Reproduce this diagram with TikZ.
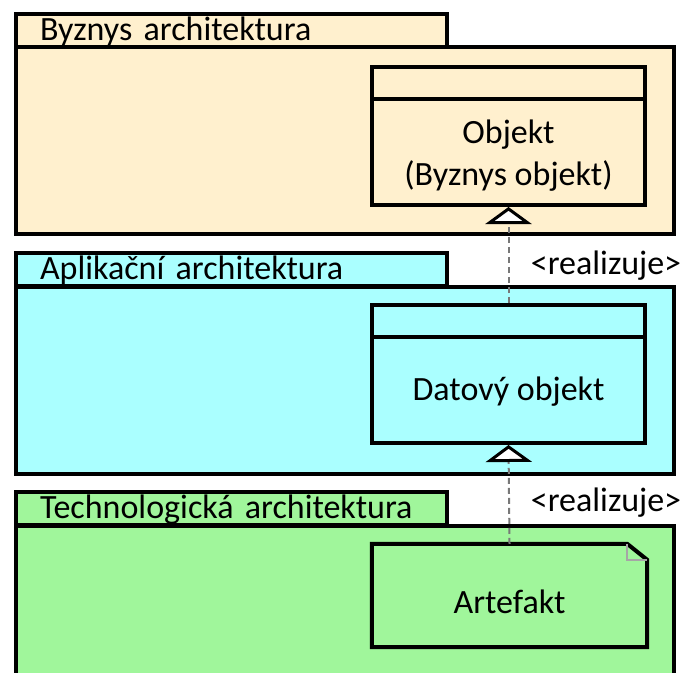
\documentclass[tikz,border=0pt]{standalone}
\usepackage{fontspec}
\setmainfont{Carlito}
\usetikzlibrary{arrows.meta}
\definecolor{bizfill}{RGB}{255,240,206}
\definecolor{appfill}{RGB}{170,255,255}
\definecolor{techfill}{RGB}{160,246,155}
\definecolor{dashgray}{RGB}{120,120,120}

\tikzset{
  pkgtab/.style={draw, line width=4pt, anchor=north west, minimum width=431pt,
    minimum height=33pt, text width=383pt, inner xsep=24pt, inner ysep=2pt,
    text height=24pt, text depth=5pt, align=left},
  pkgbody/.style={draw, line width=4pt, anchor=north west, minimum width=658pt,
    minimum height=187pt},
  classbox/.style={draw, line width=4pt, minimum width=273pt, minimum height=138pt},
  realize/.style={dashgray, line width=2pt, dash pattern=on 6pt off 4pt,
    -{Triangle[length=17pt, width=46pt, fill=white, color=black, line width=3pt]}},
}

\begin{document}
\begin{tikzpicture}[x=1pt, y=-1pt, font=\fontsize{34}{42}\selectfont]
\useasboundingbox (0,0) rectangle (690,672);
\clip (0,0) rectangle (690,672);

% business layer
\node[pkgbody, fill=bizfill] (bizbody) at (14,45) {};
\node[pkgtab, fill=bizfill] (biztab) at (14,12) {Byznys architektura};
\node[classbox] (objekt) at (508.5,136) {};
\draw[line width=4pt] ([yshift=-34pt]objekt.north west) -- ([yshift=-34pt]objekt.north east);
\node[align=center] (objekttext) at (508.5,156) {Objekt\\(Byznys objekt)};

% application layer
\node[pkgbody, fill=appfill] (appbody) at (14,285) {};
\node[pkgtab, fill=appfill] (apptab) at (14,251) {Aplikační architektura};
\node[classbox] (datovy) at (508.5,374) {};
\draw[line width=4pt] ([yshift=-34pt]datovy.north west) -- ([yshift=-34pt]datovy.north east);
\node (datovytext) at (508.5,392) {Datový objekt};

% technology layer
\node[pkgbody, fill=techfill, minimum height=200pt] (techbody) at (14,524) {};
\node[pkgtab, fill=techfill] (techtab) at (14,490) {Technologická architektura};
\node[minimum width=275pt, minimum height=103pt, text height=35pt, text depth=0pt]
  (artefakt) at (509.5,595.5) {Artefakt};
\draw[line width=4pt, line join=miter] (artefakt.north west) -- ([xshift=-20pt]artefakt.north east)
  -- ([yshift=-16pt]artefakt.north east) -- (artefakt.south east)
  -- (artefakt.south west) -- cycle;
\draw[gray!70, line width=2.5pt] ([xshift=-20pt]artefakt.north east)
  -- ([xshift=-20pt, yshift=-16pt]artefakt.north east) -- ([yshift=-16pt]artefakt.north east);

% realization links
\draw[realize] (datovy.north) -- (objekt.south);
\draw[realize] (artefakt.north) -- (datovy.south);
\node (real1) at (606,266) {\textless realizuje\textgreater};
\node (real2) at (606,503) {\textless realizuje\textgreater};
\end{tikzpicture}
\end{document}
